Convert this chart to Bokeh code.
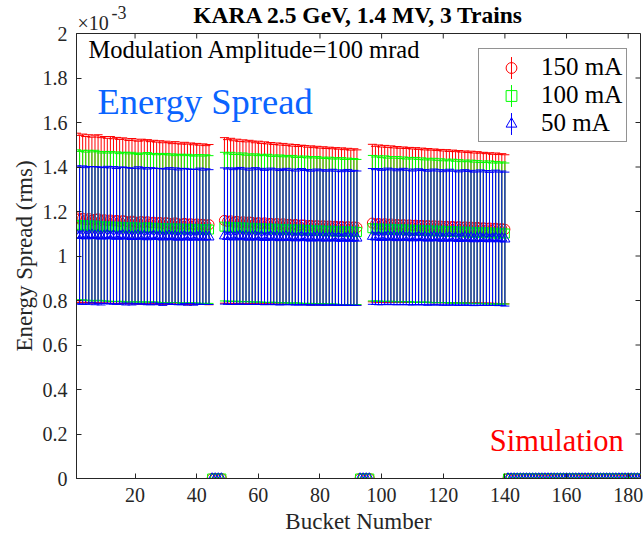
import math
import numpy as np
from bokeh.plotting import figure
from bokeh.models import (ColumnDataSource, Range1d, FixedTicker, Title,
                          Label, Legend, LegendItem)
from bokeh.embed import file_html
from bokeh.resources import INLINE

# ---------------- data (energy spread in units of 1e-3) ----------------
N_BUCKETS = 184
TRAIN_FIRST = [1, 49, 97]          # first filled bucket of each train (44 buckets each)
X_RANGE = (1, 184)
Y_RANGE = (0, 2)
X_TICKS = [20, 40, 60, 80, 100, 120, 140, 160, 180]
Y_TICKS = [0, 0.2, 0.4, 0.6, 0.8, 1, 1.2, 1.4, 1.6, 1.8, 2]

mean_150_t1 = [1.172, 1.166, 1.170, 1.163, 1.168, 1.161, 1.165, 1.167, 1.160, 1.163,
               1.158, 1.162, 1.157, 1.160, 1.155, 1.159, 1.156, 1.152, 1.157, 1.153,
               1.150, 1.155, 1.151, 1.154, 1.149, 1.152, 1.148, 1.151, 1.146, 1.150,
               1.147, 1.144, 1.149, 1.145, 1.143, 1.147, 1.142, 1.145, 1.141, 1.144,
               1.140, 1.143, 1.139, 1.141]
err_150_t1 = [0.380, 0.376, 0.378, 0.374, 0.377, 0.373, 0.375, 0.378, 0.372, 0.374,
              0.371, 0.375, 0.370, 0.373, 0.369, 0.372, 0.370, 0.367, 0.371, 0.368,
              0.366, 0.370, 0.367, 0.369, 0.365, 0.368, 0.364, 0.367, 0.363, 0.366,
              0.364, 0.361, 0.365, 0.362, 0.360, 0.364, 0.361, 0.363, 0.359, 0.362,
              0.358, 0.361, 0.357, 0.360]
mean_150_t2 = [1.160, 1.155, 1.158, 1.152, 1.156, 1.150, 1.154, 1.149, 1.153, 1.151,
               1.147, 1.150, 1.145, 1.149, 1.144, 1.147, 1.142, 1.146, 1.141, 1.145,
               1.140, 1.143, 1.138, 1.142, 1.137, 1.140, 1.139, 1.135, 1.138, 1.134,
               1.137, 1.133, 1.136, 1.132, 1.135, 1.131, 1.134, 1.130, 1.133, 1.129,
               1.132, 1.128, 1.131, 1.128]
err_150_t2 = [0.372, 0.368, 0.371, 0.366, 0.369, 0.365, 0.368, 0.364, 0.367, 0.365,
              0.362, 0.366, 0.361, 0.364, 0.360, 0.363, 0.359, 0.362, 0.358, 0.361,
              0.357, 0.360, 0.356, 0.359, 0.355, 0.358, 0.357, 0.354, 0.357, 0.353,
              0.356, 0.352, 0.355, 0.351, 0.354, 0.351, 0.353, 0.350, 0.353, 0.349,
              0.352, 0.348, 0.351, 0.349]
mean_150_t3 = [1.148, 1.143, 1.146, 1.141, 1.145, 1.140, 1.144, 1.139, 1.142, 1.138,
               1.141, 1.137, 1.140, 1.136, 1.139, 1.135, 1.138, 1.134, 1.137, 1.133,
               1.136, 1.132, 1.135, 1.131, 1.134, 1.130, 1.133, 1.129, 1.132, 1.128,
               1.131, 1.127, 1.130, 1.126, 1.129, 1.125, 1.127, 1.124, 1.126, 1.122,
               1.125, 1.121, 1.123, 1.120]
err_150_t3 = [0.354, 0.350, 0.353, 0.349, 0.352, 0.348, 0.351, 0.347, 0.350, 0.346,
              0.349, 0.346, 0.348, 0.345, 0.348, 0.344, 0.347, 0.343, 0.346, 0.343,
              0.345, 0.342, 0.344, 0.341, 0.344, 0.340, 0.343, 0.340, 0.342, 0.339,
              0.341, 0.338, 0.341, 0.337, 0.340, 0.337, 0.339, 0.336, 0.338, 0.335,
              0.338, 0.335, 0.337, 0.335]

mean_100_t1 = [1.140, 1.136, 1.139, 1.134, 1.138, 1.133, 1.137, 1.135, 1.131, 1.134,
               1.130, 1.133, 1.129, 1.132, 1.128, 1.131, 1.129, 1.126, 1.130, 1.127,
               1.125, 1.128, 1.126, 1.129, 1.125, 1.127, 1.124, 1.126, 1.123, 1.125,
               1.122, 1.125, 1.121, 1.124, 1.122, 1.120, 1.123, 1.121, 1.119, 1.122,
               1.120, 1.118, 1.121, 1.119]
err_100_t1 = [0.337, 0.334, 0.336, 0.333, 0.337, 0.335, 0.338, 0.334, 0.332, 0.336,
              0.333, 0.337, 0.334, 0.336, 0.332, 0.335, 0.337, 0.333, 0.336, 0.334,
              0.331, 0.335, 0.333, 0.336, 0.332, 0.334, 0.331, 0.335, 0.333, 0.336,
              0.332, 0.334, 0.330, 0.333, 0.335, 0.331, 0.334, 0.332, 0.330, 0.333,
              0.335, 0.331, 0.334, 0.332]
mean_100_t2 = [1.132, 1.128, 1.131, 1.126, 1.130, 1.125, 1.129, 1.124, 1.127, 1.123,
               1.126, 1.122, 1.125, 1.121, 1.124, 1.120, 1.123, 1.119, 1.122, 1.118,
               1.121, 1.117, 1.120, 1.116, 1.119, 1.115, 1.118, 1.114, 1.117, 1.113,
               1.116, 1.112, 1.115, 1.111, 1.114, 1.110, 1.113, 1.109, 1.112, 1.108,
               1.111, 1.107, 1.110, 1.108]
err_100_t2 = [0.334, 0.331, 0.335, 0.330, 0.333, 0.331, 0.334, 0.329, 0.332, 0.330,
              0.333, 0.329, 0.332, 0.330, 0.333, 0.328, 0.331, 0.329, 0.332, 0.328,
              0.331, 0.329, 0.332, 0.327, 0.330, 0.328, 0.331, 0.327, 0.330, 0.328,
              0.331, 0.327, 0.329, 0.327, 0.330, 0.326, 0.329, 0.327, 0.330, 0.326,
              0.329, 0.327, 0.328, 0.326]
mean_100_t3 = [1.125, 1.121, 1.124, 1.119, 1.123, 1.118, 1.122, 1.117, 1.121, 1.116,
               1.120, 1.115, 1.119, 1.114, 1.118, 1.113, 1.117, 1.112, 1.116, 1.111,
               1.115, 1.110, 1.114, 1.109, 1.113, 1.108, 1.112, 1.107, 1.111, 1.106,
               1.110, 1.105, 1.109, 1.104, 1.108, 1.103, 1.107, 1.102, 1.106, 1.101,
               1.105, 1.100, 1.104, 1.101]
err_100_t3 = [0.327, 0.324, 0.326, 0.323, 0.327, 0.322, 0.325, 0.323, 0.326, 0.322,
              0.325, 0.321, 0.324, 0.322, 0.325, 0.321, 0.324, 0.320, 0.323, 0.321,
              0.324, 0.320, 0.323, 0.319, 0.322, 0.320, 0.323, 0.319, 0.322, 0.318,
              0.321, 0.319, 0.322, 0.318, 0.321, 0.317, 0.320, 0.318, 0.321, 0.317,
              0.320, 0.318, 0.319, 0.317]

mean_50_t1 = [1.095, 1.092, 1.094, 1.090, 1.093, 1.096, 1.091, 1.094, 1.089, 1.092,
              1.095, 1.090, 1.093, 1.088, 1.091, 1.094, 1.089, 1.092, 1.087, 1.090,
              1.093, 1.088, 1.091, 1.086, 1.089, 1.092, 1.087, 1.090, 1.085, 1.088,
              1.091, 1.086, 1.089, 1.084, 1.087, 1.090, 1.085, 1.088, 1.084, 1.087,
              1.089, 1.084, 1.087, 1.085]
err_50_t1 = [0.310, 0.308, 0.311, 0.307, 0.309, 0.306, 0.310, 0.307, 0.309, 0.305,
             0.308, 0.306, 0.309, 0.305, 0.308, 0.306, 0.309, 0.304, 0.307, 0.305,
             0.308, 0.304, 0.307, 0.305, 0.308, 0.303, 0.306, 0.304, 0.307, 0.303,
             0.306, 0.304, 0.307, 0.303, 0.306, 0.304, 0.306, 0.302, 0.305, 0.303,
             0.306, 0.302, 0.305, 0.303]
mean_50_t2 = [1.090, 1.087, 1.089, 1.085, 1.088, 1.091, 1.086, 1.089, 1.084, 1.087,
              1.090, 1.085, 1.088, 1.083, 1.086, 1.089, 1.084, 1.087, 1.082, 1.085,
              1.088, 1.083, 1.086, 1.081, 1.084, 1.087, 1.082, 1.085, 1.080, 1.083,
              1.086, 1.081, 1.084, 1.080, 1.083, 1.085, 1.080, 1.083, 1.079, 1.082,
              1.084, 1.079, 1.082, 1.080]
err_50_t2 = [0.306, 0.304, 0.307, 0.303, 0.305, 0.307, 0.304, 0.306, 0.302, 0.305,
             0.307, 0.303, 0.306, 0.302, 0.304, 0.306, 0.303, 0.305, 0.302, 0.304,
             0.306, 0.302, 0.305, 0.301, 0.304, 0.306, 0.302, 0.304, 0.301, 0.303,
             0.305, 0.302, 0.304, 0.301, 0.303, 0.305, 0.301, 0.304, 0.300, 0.303,
             0.305, 0.301, 0.303, 0.302]
mean_50_t3 = [1.088, 1.085, 1.087, 1.083, 1.086, 1.089, 1.084, 1.087, 1.082, 1.085,
              1.088, 1.083, 1.086, 1.081, 1.084, 1.087, 1.082, 1.085, 1.080, 1.083,
              1.086, 1.081, 1.084, 1.079, 1.082, 1.085, 1.080, 1.083, 1.078, 1.081,
              1.084, 1.079, 1.082, 1.077, 1.080, 1.083, 1.078, 1.081, 1.077, 1.080,
              1.082, 1.077, 1.080, 1.076]
err_50_t3 = [0.305, 0.303, 0.306, 0.302, 0.304, 0.306, 0.303, 0.305, 0.301, 0.304,
             0.306, 0.302, 0.305, 0.301, 0.303, 0.305, 0.302, 0.304, 0.301, 0.303,
             0.305, 0.301, 0.304, 0.300, 0.303, 0.305, 0.301, 0.303, 0.300, 0.302,
             0.304, 0.301, 0.303, 0.300, 0.302, 0.304, 0.300, 0.303, 0.299, 0.302,
             0.304, 0.300, 0.302, 0.301]

buckets = list(range(1, N_BUCKETS + 1))


def fill(trains):
    """Place the train values into the 184-bucket ring; empty buckets are 0."""
    vals = [0.0] * N_BUCKETS
    for first, lst in zip(TRAIN_FIRST, trains):
        for i, v in enumerate(lst):
            vals[first - 1 + i] = v
    return vals


series = [
    dict(label="150 mA", color="#FF0000", marker="circle", size=10,
         mean=fill([mean_150_t1, mean_150_t2, mean_150_t3]),
         err=fill([err_150_t1, err_150_t2, err_150_t3])),
    dict(label="100 mA", color="#00FF00", marker="square", size=9,
         mean=fill([mean_100_t1, mean_100_t2, mean_100_t3]),
         err=fill([err_100_t1, err_100_t2, err_100_t3])),
    dict(label="50 mA", color="#0000FF", marker="triangle", size=10,
         mean=fill([mean_50_t1, mean_50_t2, mean_50_t3]),
         err=fill([err_50_t1, err_50_t2, err_50_t3])),
]

FONT = "Liberation Serif"
AX = "#262626"

p = figure(width=643, height=537, output_backend="svg", toolbar_location=None,
           x_range=Range1d(*X_RANGE), y_range=Range1d(*Y_RANGE),
           min_border_left=76, min_border_right=3, min_border_top=33,
           min_border_bottom=59)
p.background_fill_color = "white"
p.border_fill_color = "white"
p.outline_line_color = AX
p.xgrid.visible = False
p.ygrid.visible = False
p.title.text = ""
p.title.visible = False

# top strip: "x10^-3" exponent marker and the bold title share one row
p.add_layout(Title(text="\u00d710", align="left", offset=1, vertical_align="top",
                   standoff=-5, text_font=FONT, text_font_size="20px",
                   text_font_style="normal", text_color=AX), "above")
p.add_layout(Title(text="KARA 2.5 GeV, 1.4 MV, 3 Trains", align="center",
                   vertical_align="bottom", standoff=-27, text_font=FONT,
                   text_font_size="23.5px", text_font_style="bold",
                   text_color="black"), "above")
p.add_layout(Title(text="-3", align="left", offset=35, vertical_align="top",
                   standoff=-16, text_font=FONT, text_font_size="18px",
                   text_font_style="normal", text_color=AX), "above")

for ax in (p.xaxis[0], p.yaxis[0]):
    ax.axis_line_color = AX
    ax.major_tick_line_color = AX
    ax.major_tick_in = 5
    ax.major_tick_out = 0
    ax.minor_tick_line_color = None
    ax.major_label_text_font = FONT
    ax.major_label_text_font_size = "20px"
    ax.major_label_text_color = AX
    ax.axis_label_text_font = FONT
    ax.axis_label_text_font_size = "23px"
    ax.axis_label_text_font_style = "normal"
    ax.axis_label_text_color = AX

p.xaxis.ticker = FixedTicker(ticks=X_TICKS)
p.yaxis.ticker = FixedTicker(ticks=Y_TICKS)
p.yaxis.major_label_overrides = {0: "0", 1: "1", 2: "2"}
p.xaxis.axis_label = "Bucket Number"
p.yaxis.axis_label = "Energy Spread (rms)"
p.xaxis.major_label_standoff = 9
p.yaxis.major_label_standoff = 9
p.xaxis.axis_label_standoff = 4
p.yaxis.axis_label_standoff = 3

# inward tick marks on the top and right edges of the box
p.scatter(X_TICKS, [Y_RANGE[1]] * len(X_TICKS), marker="dash", angle=math.pi / 2,
          size=10, line_color=AX, line_width=1)
p.scatter([X_RANGE[1]] * len(Y_TICKS), Y_TICKS, marker="dash",
          size=10, line_color=AX, line_width=1)

legend_items = []
for s in series:
    mean = np.array(s["mean"])
    err = np.array(s["err"])
    src = ColumnDataSource(dict(x=buckets, y=mean, lo=mean - err, hi=mean + err))
    p.segment(x0="x", y0="lo", x1="x", y1="hi", source=src,
              line_color=s["color"], line_width=1)
    p.scatter("x", "hi", source=src, marker="dash", size=9, line_color=s["color"], line_width=1)
    p.scatter("x", "lo", source=src, marker="dash", size=9, line_color=s["color"], line_width=1)
    mr = p.scatter("x", "y", source=src, marker=s["marker"], size=s["size"],
                   fill_color=None, line_color=s["color"], line_width=1)
    # legend-only swatch: a thin vertical bar (never drawn in the plot area)
    bar = p.ellipse(x=[np.nan], y=[np.nan], width=0.01, height=20,
                    width_units="screen", height_units="screen",
                    fill_color=None, line_color=s["color"], line_width=1)
    legend_items.append(LegendItem(label=s["label"], renderers=[bar, mr]))

legend = Legend(items=legend_items, location=(402, 336),
                label_text_font=FONT, label_text_font_size="25px", label_text_color="black",
                glyph_width=56, glyph_height=27, label_standoff=2, padding=4, spacing=0,
                margin=0, border_line_color=AX, border_line_width=1,
                background_fill_color="white", background_fill_alpha=1)
p.add_layout(legend, "center")

p.add_layout(Label(x=4.9, y=1.866, text="Modulation Amplitude=100 mrad",
                   text_font=FONT, text_font_size="24.5px", text_color="black"))
p.add_layout(Label(x=7.8, y=1.604, text="Energy Spread",
                   text_font=FONT, text_font_size="36.5px", text_color="#0A64FF"))
p.add_layout(Label(x=135.1, y=0.094, text="Simulation",
                   text_font=FONT, text_font_size="30.5px", text_color="#FF0000"))

open("out.html", "w").write(file_html(p, INLINE))
